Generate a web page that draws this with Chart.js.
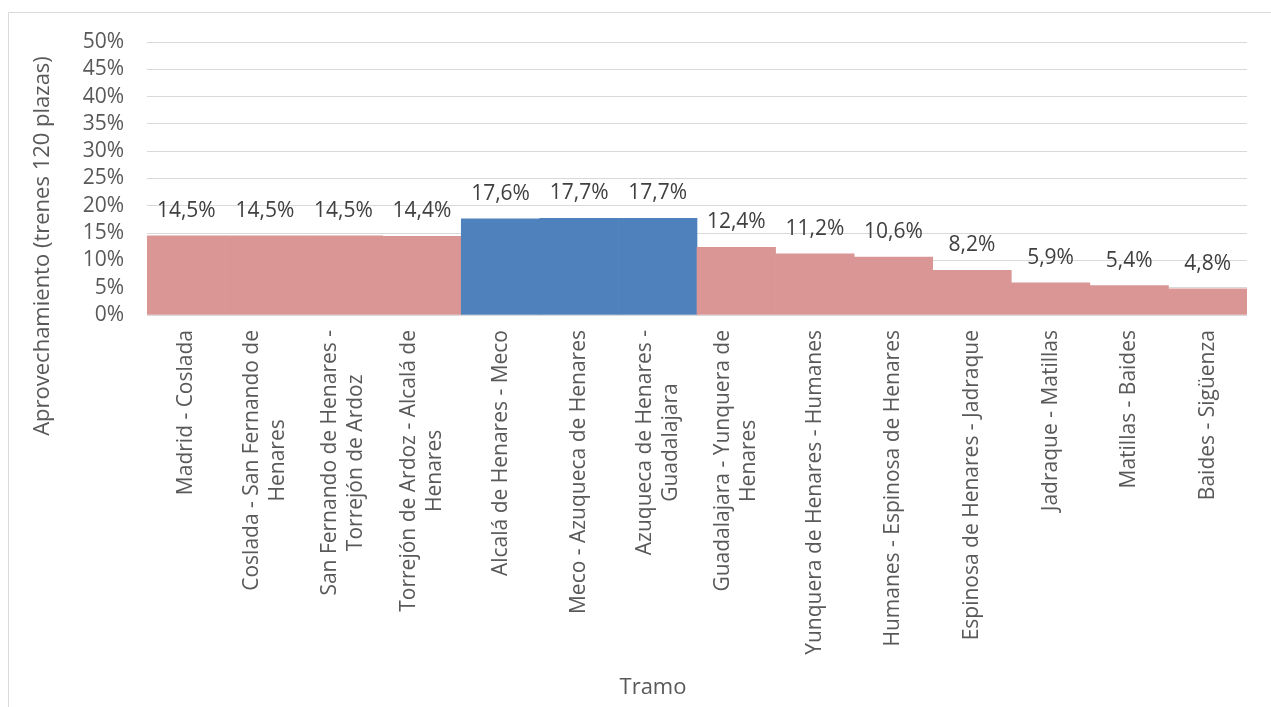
<!DOCTYPE html>
<html>
<head>
<meta charset="utf-8">
<script src="https://cdn.jsdelivr.net/npm/chart.js@4/dist/chart.umd.min.js"></script>
<style>
  html, body { margin: 0; padding: 0; background: #fff; }
  canvas { display: block; }
</style>
</head>
<body>
<canvas id="myChart" width="1271" height="707"></canvas>
<script>
// tramos de la línea, cada uno partido en líneas para la etiqueta vertical
const tramos = [
  ['Madrid - Coslada'],
  ['Coslada - San Fernando de', 'Henares'],
  ['San Fernando de Henares -', 'Torrejón de Ardoz'],
  ['Torrejón de Ardoz - Alcalá de', 'Henares'],
  ['Alcalá de Henares - Meco'],
  ['Meco - Azuqueca de Henares'],
  ['Azuqueca de Henares -', 'Guadalajara'],
  ['Guadalajara - Yunquera de', 'Henares'],
  ['Yunquera de Henares - Humanes'],
  ['Humanes - Espinosa de Henares'],
  ['Espinosa de Henares - Jadraque'],
  ['Jadraque - Matillas'],
  ['Matillas - Baides'],
  ['Baides - Sigüenza']
]
const aprovechamiento = [14.5, 14.5, 14.5, 14.4, 17.6, 17.7, 17.7, 12.4, 11.2, 10.6, 8.2, 5.9, 5.4, 4.8]
// tramos destacados en azul
const destacados = [4, 5, 6]
const yTicks = [0, 5, 10, 15, 20, 25, 30, 35, 40, 45, 50]

const FONT = "'Open Sans', sans-serif"
const GRAY = '#595959'

const barColors = aprovechamiento.map((v, i) => destacados.includes(i) ? '#4F81BD' : '#D99694')

const pct = v => v.toFixed(1).replace('.', ',') + '%'

const frame = {
  id: 'frame',
  beforeDraw(chart) {
    const c = chart.ctx
    c.save()
    c.fillStyle = '#fff'
    c.fillRect(0, 0, chart.width, chart.height)
    c.strokeStyle = '#d9d9d9'
    c.lineWidth = 1
    c.beginPath()
    c.moveTo(8.5, chart.height)
    c.lineTo(8.5, 12.5)
    c.lineTo(chart.width, 12.5)
    c.stroke()
    c.restore()
  }
}

const valueLabels = {
  id: 'valueLabels',
  afterDatasetsDraw(chart) {
    const c = chart.ctx
    const meta = chart.getDatasetMeta(0)
    c.save()
    c.font = '21px ' + FONT
    c.fillStyle = '#404040'
    c.textAlign = 'center'
    c.textBaseline = 'middle'
    meta.data.forEach((bar, i) => {
      c.fillText(pct(aprovechamiento[i]), bar.x, bar.y - 25)
    })
    c.restore()
  }
}

const axisText = {
  id: 'axisText',
  afterDraw(chart) {
    const c = chart.ctx
    const x = chart.scales.x
    c.save()
    c.fillStyle = GRAY
    c.textBaseline = 'middle'
    // etiquetas de categoría, giradas y centradas entre sí
    c.font = '21px ' + FONT
    tramos.forEach((lines, i) => {
      const px = x.getPixelForValue(i)
      const w = Math.max(...lines.map(l => c.measureText(l).width))
      c.save()
      c.translate(px, 330)
      c.rotate(-Math.PI / 2)
      c.textAlign = 'center'
      lines.forEach((l, k) => {
        c.fillText(l, -w / 2, (k - (lines.length - 1) / 2) * 26)
      })
      c.restore()
    })
    // títulos de los ejes
    c.font = '22px ' + FONT
    c.textAlign = 'center'
    c.fillText('Tramo', 653, 688)
    c.save()
    c.translate(43, 246)
    c.rotate(-Math.PI / 2)
    c.fillText('Aprovechamiento (trenes 120 plazas)', 0, 0)
    c.restore()
    c.restore()
  }
}

const ctx = document.getElementById('myChart').getContext('2d')
const myChart = new Chart(ctx, {
  type: 'bar',
  data: {
    labels: tramos,
    datasets: [{
      data: aprovechamiento,
      backgroundColor: barColors,
      borderWidth: 0,
      barPercentage: 1,
      categoryPercentage: 1
    }]
  },
  options: {
    responsive: false,
    animation: false,
    layout: { padding: { top: 42, right: 24, left: 0, bottom: 0 } },
    scales: {
      x: {
        grid: { display: false },
        border: { display: false },
        ticks: { display: false },
        afterFit(scale) { scale.height = 392 }
      },
      y: {
        min: 0,
        max: 50,
        afterBuildTicks(scale) { scale.ticks = yTicks.map(v => ({ value: v })) },
        grid: { color: '#d9d9d9', lineWidth: 1, drawTicks: false },
        border: { display: false },
        ticks: {
          autoSkip: false,
          padding: 23,
          color: GRAY,
          font: { family: FONT, size: 21 },
          callback: v => v + '%'
        },
        afterFit(scale) { scale.width = 147 }
      }
    },
    plugins: {
      legend: { display: false },
      tooltip: { enabled: false }
    }
  },
  plugins: [frame, valueLabels, axisText]
})
</script>
</body>
</html>
